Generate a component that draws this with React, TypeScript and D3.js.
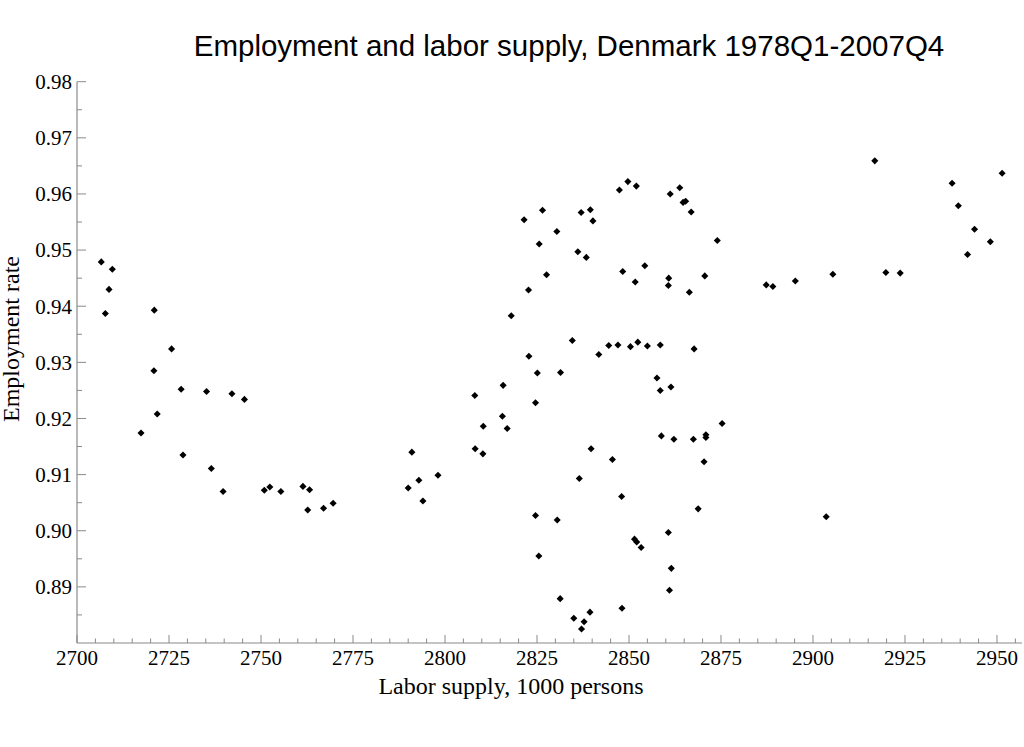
import React from "react";
import * as d3 from "d3";

const laborSupply: number[] = [
  2706.6, 2709.6, 2708.7, 2707.7, 2721.0, 2725.7, 2720.9, 2728.3, 2735.2, 2742.1,
  2745.5, 2721.8, 2717.4, 2728.8, 2736.5, 2739.7, 2750.9, 2752.4, 2755.4, 2761.4,
  2763.2, 2762.7, 2767.0, 2769.6, 2791.0, 2792.9, 2798.1, 2790.0, 2794.0, 2808.1,
  2810.4, 2808.2, 2810.3, 2815.6, 2816.9, 2815.8, 2818.0, 2821.5, 2826.5, 2830.4,
  2825.6, 2827.6, 2822.7, 2822.8, 2825.1, 2824.6, 2831.4, 2834.6, 2824.6, 2830.5,
  2825.5, 2831.3, 2835.0, 2837.8, 2837.1, 2836.5, 2839.5, 2837.0, 2840.2, 2836.1,
  2838.4, 2849.7, 2847.4, 2852.0, 2863.8, 2861.2, 2865.4, 2864.7, 2866.9, 2874.0,
  2854.3, 2848.3, 2870.6, 2860.8, 2860.7, 2851.7, 2866.4, 2841.8, 2844.5, 2847.0,
  2850.4, 2852.4, 2855.0, 2858.5, 2867.7, 2857.6, 2858.5, 2861.4, 2875.3, 2858.8,
  2862.2, 2867.5, 2870.9, 2870.9, 2839.7, 2845.5, 2870.4, 2848.0, 2868.8, 2860.7,
  2851.5, 2852.1, 2853.3, 2861.5, 2861.0, 2848.1, 2839.4, 2916.8, 2951.4, 2937.8,
  2939.5, 2943.9, 2948.2, 2942.0, 2919.8, 2923.7, 2905.4, 2895.2, 2887.3, 2889.1,
  2903.6,
];

const employmentRate: number[] = [
  0.9479, 0.9466, 0.943, 0.9387, 0.9393, 0.9324, 0.9285, 0.9252, 0.9248, 0.9244,
  0.9234, 0.9208, 0.9174, 0.9135, 0.9111, 0.907, 0.9072, 0.9078, 0.907, 0.9079,
  0.9073, 0.9037, 0.904, 0.9049, 0.914, 0.909, 0.9099, 0.9076, 0.9053, 0.9241,
  0.9186, 0.9146, 0.9137, 0.9204, 0.9182, 0.9259, 0.9383, 0.9554, 0.9571, 0.9533,
  0.9511, 0.9456, 0.9429, 0.9311, 0.9281, 0.9228, 0.9282, 0.9339, 0.9027, 0.9019,
  0.8955, 0.8879, 0.8844, 0.8838, 0.8825, 0.9093, 0.9572, 0.9567, 0.9552, 0.9497,
  0.9487, 0.9622, 0.9607, 0.9614, 0.9611, 0.96, 0.9587, 0.9585, 0.9568, 0.9517,
  0.9472, 0.9462, 0.9454, 0.945, 0.9437, 0.9443, 0.9425, 0.9314, 0.933, 0.9331,
  0.9328, 0.9336, 0.9329, 0.9331, 0.9324, 0.9272, 0.925, 0.9256, 0.9191, 0.9169,
  0.9163, 0.9163, 0.9171, 0.9166, 0.9146, 0.9127, 0.9123, 0.9061, 0.9039, 0.8997,
  0.8985, 0.898, 0.897, 0.8933, 0.8894, 0.8862, 0.8855, 0.9659, 0.9637, 0.9619,
  0.9579, 0.9537, 0.9515, 0.9492, 0.946, 0.9459, 0.9457, 0.9445, 0.9438, 0.9435,
  0.9025,
];

const xTicks: number[] = [2700, 2725, 2750, 2775, 2800, 2825, 2850, 2875, 2900, 2925, 2950];
const yTicks: number[] = [0.89, 0.9, 0.91, 0.92, 0.93, 0.94, 0.95, 0.96, 0.97, 0.98];

const titleText = "Employment and labor supply, Denmark 1978Q1-2007Q4";
const xLabel = "Labor supply, 1000 persons";
const yLabel = "Employment rate";

export default function App() {
  const W = 1024;
  const H = 747;
  const left = 77;
  const right = 1022;
  const top = 81.7;
  const bottom = 643;

  const x = d3.scaleLinear().domain([2700, 2956.8]).range([left, right]);
  const y = d3.scaleLinear().domain([0.88, 0.98]).range([bottom, top]);

  const xMinor = d3.range(2700, 2956, 5).filter((v) => v % 25 !== 0);
  const yMinor = d3.range(0, 20).map((i) => 0.885 + i * 0.01).filter((v) => v < 0.981);

  const axisColor = "#8a8a8a";
  const serif = "'Liberation Serif', 'Times New Roman', serif";
  const sans = "'Liberation Sans', Arial, sans-serif";
  const marker = d3.symbol().type(d3.symbolSquare).size(25)();

  const fmtY = d3.format(".2f");

  return (
    <svg
      width={W}
      height={H}
      style={{ position: "absolute", left: 0, top: 0, background: "#fff" }}
    >
      <rect x={0} y={0} width={W} height={H} fill="#fff" />
      <text x={569} y={56} textAnchor="middle" fontFamily={sans} fontSize={29.5} fill="#000">
        {titleText}
      </text>

      {/* axes lines */}
      <line x1={left} x2={left} y1={top} y2={bottom} stroke={axisColor} strokeWidth={1.2} />
      <line x1={left} x2={right} y1={bottom} y2={bottom} stroke={axisColor} strokeWidth={1.2} />

      {/* x ticks */}
      {xTicks.map((t) => (
        <g key={"xt" + t}>
          <line x1={x(t)} x2={x(t)} y1={bottom} y2={bottom - 8} stroke={axisColor} strokeWidth={1} />
          <text x={x(t)} y={665} textAnchor="middle" fontFamily={serif} fontSize={21} fill="#000">
            {t}
          </text>
        </g>
      ))}
      {xMinor.map((t) => (
        <line key={"xm" + t} x1={x(t)} x2={x(t)} y1={bottom} y2={bottom - 4.5} stroke={axisColor} strokeWidth={1} />
      ))}

      {/* y ticks */}
      {yTicks.map((t) => (
        <g key={"yt" + t}>
          <line x1={left} x2={left + 9} y1={y(t)} y2={y(t)} stroke={axisColor} strokeWidth={1} />
          <text x={72} y={y(t)} dy="0.35em" textAnchor="end" fontFamily={serif} fontSize={21} fill="#000">
            {fmtY(t)}
          </text>
        </g>
      ))}
      {yMinor.map((t) => (
        <line key={"ym" + t} x1={left} x2={left + 5} y1={y(t)} y2={y(t)} stroke={axisColor} strokeWidth={1} />
      ))}

      {/* axis labels */}
      <text x={511} y={694} textAnchor="middle" fontFamily={serif} fontSize={24} fill="#000">
        {xLabel}
      </text>
      <text
        transform={`translate(19, 339) rotate(-90)`}
        textAnchor="middle"
        fontFamily={serif}
        fontSize={24}
        fill="#000"
      >
        {yLabel}
      </text>

      {/* points */}
      {laborSupply.map((v, i) => (
        <path
          key={"p" + i}
          d={marker || ""}
          transform={`translate(${x(v)},${y(employmentRate[i])}) rotate(45)`}
          fill="#000"
        />
      ))}
    </svg>
  );
}
